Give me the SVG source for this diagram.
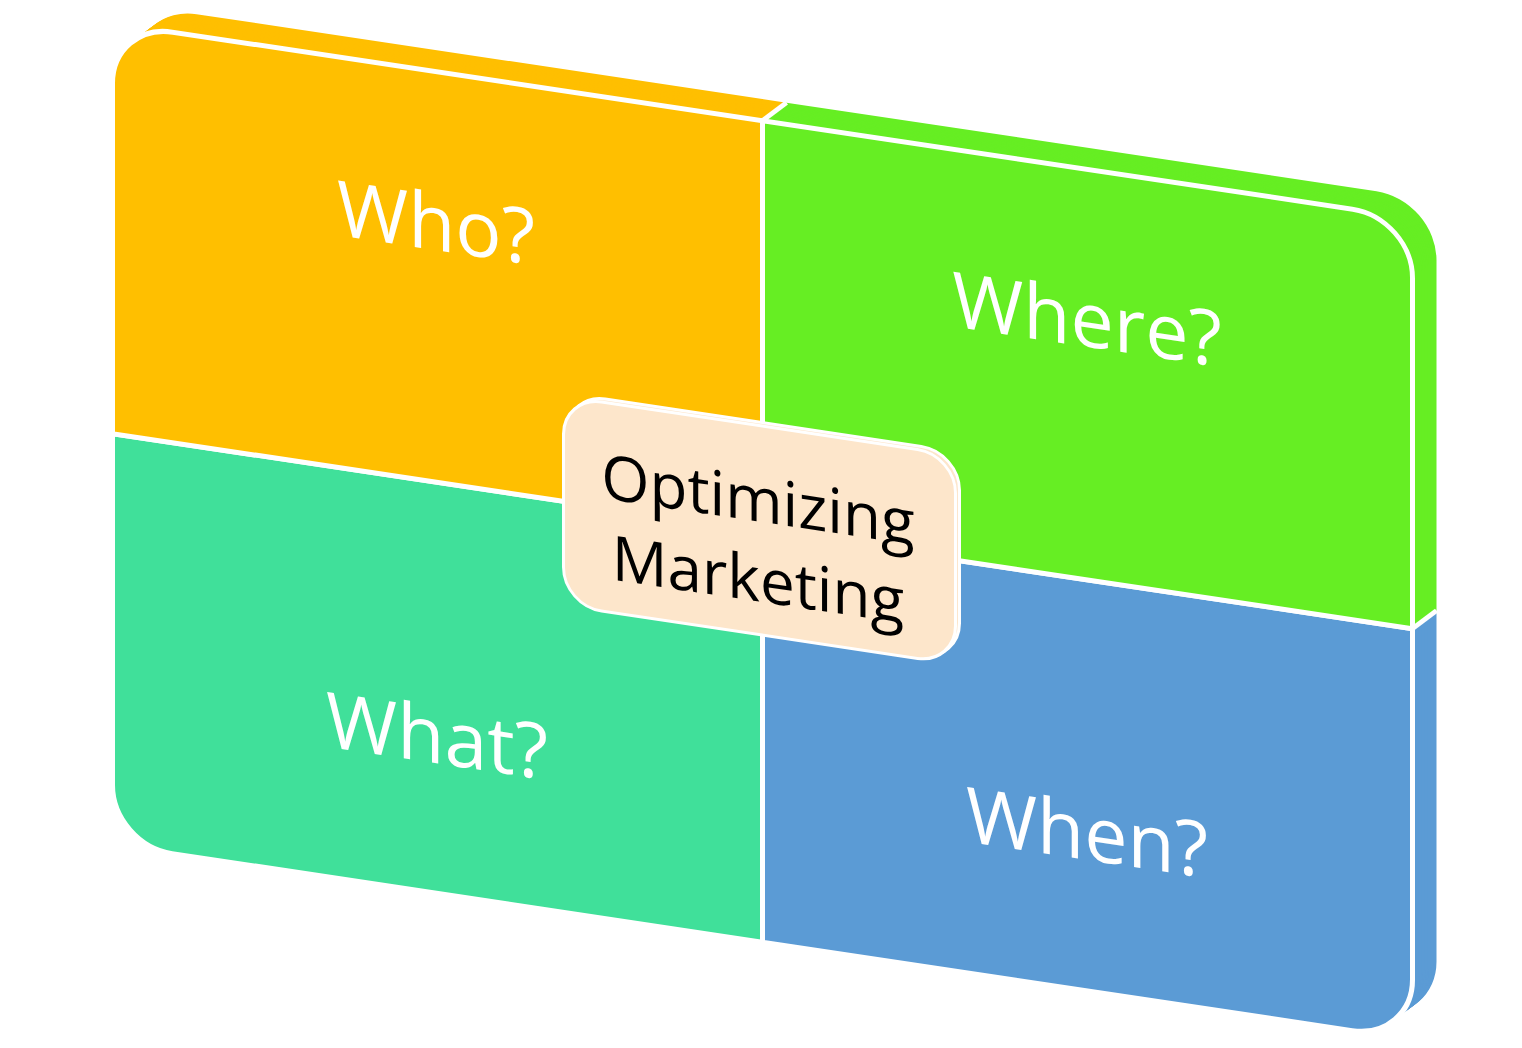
<svg xmlns="http://www.w3.org/2000/svg" xmlns:xlink="http://www.w3.org/1999/xlink" width="1522" height="1048" viewBox="0 0 1522 1048">
<style>
  .face { stroke: #ffffff; stroke-width: 5; stroke-linejoin: round; }
  .lbl { font-family: "Open Sans", "Noto Sans", sans-serif; font-size: 77px; fill: #ffffff; text-anchor: middle; }
  .ctr { font-family: "Open Sans", "Noto Sans", sans-serif; font-size: 62px; fill: #000000; text-anchor: middle; }
  .boxf { fill: #FDE6CB; stroke: #ffffff; stroke-width: 3; stroke-linejoin: round; }
  .edge { stroke: #ffffff; stroke-width: 4.5; fill: none; }
</style>
<defs>
  <path id="p-who" d="M762.5,23.5 H172.5 A60,60 0 0 0 112.5,83.5 V434 H762.5 Z"/>
  <path id="p-where" d="M762.5,23.5 H1352.5 A60,60 0 0 1 1412.5,83.5 V434 H762.5 Z"/>
  <path id="p-what" d="M112.5,434 V785 A60,60 0 0 0 172.5,845 H762.5 V434 Z"/>
  <path id="p-when" d="M762.5,434 V845 H1352.5 A60,60 0 0 0 1412.5,785 V434 Z"/>
  <g id="ext-what">
    <use href="#p-what" transform="translate(24 -21.6)"/><use href="#p-what" transform="translate(22.5 -20.25)"/>
    <use href="#p-what" transform="translate(21 -18.9)"/><use href="#p-what" transform="translate(19.5 -17.55)"/>
    <use href="#p-what" transform="translate(18 -16.2)"/><use href="#p-what" transform="translate(16.5 -14.85)"/>
    <use href="#p-what" transform="translate(15 -13.5)"/><use href="#p-what" transform="translate(13.5 -12.15)"/>
    <use href="#p-what" transform="translate(12 -10.8)"/><use href="#p-what" transform="translate(10.5 -9.45)"/>
    <use href="#p-what" transform="translate(9 -8.1)"/><use href="#p-what" transform="translate(7.5 -6.75)"/>
    <use href="#p-what" transform="translate(6 -5.4)"/><use href="#p-what" transform="translate(4.5 -4.05)"/>
    <use href="#p-what" transform="translate(3 -2.7)"/><use href="#p-what" transform="translate(1.5 -1.35)"/>
  </g>
  <g id="ext-when">
    <use href="#p-when" transform="translate(24 -21.6)"/><use href="#p-when" transform="translate(22.5 -20.25)"/>
    <use href="#p-when" transform="translate(21 -18.9)"/><use href="#p-when" transform="translate(19.5 -17.55)"/>
    <use href="#p-when" transform="translate(18 -16.2)"/><use href="#p-when" transform="translate(16.5 -14.85)"/>
    <use href="#p-when" transform="translate(15 -13.5)"/><use href="#p-when" transform="translate(13.5 -12.15)"/>
    <use href="#p-when" transform="translate(12 -10.8)"/><use href="#p-when" transform="translate(10.5 -9.45)"/>
    <use href="#p-when" transform="translate(9 -8.1)"/><use href="#p-when" transform="translate(7.5 -6.75)"/>
    <use href="#p-when" transform="translate(6 -5.4)"/><use href="#p-when" transform="translate(4.5 -4.05)"/>
    <use href="#p-when" transform="translate(3 -2.7)"/><use href="#p-when" transform="translate(1.5 -1.35)"/>
  </g>
  <g id="ext-who">
    <use href="#p-who" transform="translate(24 -21.6)"/><use href="#p-who" transform="translate(22.5 -20.25)"/>
    <use href="#p-who" transform="translate(21 -18.9)"/><use href="#p-who" transform="translate(19.5 -17.55)"/>
    <use href="#p-who" transform="translate(18 -16.2)"/><use href="#p-who" transform="translate(16.5 -14.85)"/>
    <use href="#p-who" transform="translate(15 -13.5)"/><use href="#p-who" transform="translate(13.5 -12.15)"/>
    <use href="#p-who" transform="translate(12 -10.8)"/><use href="#p-who" transform="translate(10.5 -9.45)"/>
    <use href="#p-who" transform="translate(9 -8.1)"/><use href="#p-who" transform="translate(7.5 -6.75)"/>
    <use href="#p-who" transform="translate(6 -5.4)"/><use href="#p-who" transform="translate(4.5 -4.05)"/>
    <use href="#p-who" transform="translate(3 -2.7)"/><use href="#p-who" transform="translate(1.5 -1.35)"/>
  </g>
  <g id="ext-where">
    <use href="#p-where" transform="translate(24 -21.6)"/><use href="#p-where" transform="translate(22.5 -20.25)"/>
    <use href="#p-where" transform="translate(21 -18.9)"/><use href="#p-where" transform="translate(19.5 -17.55)"/>
    <use href="#p-where" transform="translate(18 -16.2)"/><use href="#p-where" transform="translate(16.5 -14.85)"/>
    <use href="#p-where" transform="translate(15 -13.5)"/><use href="#p-where" transform="translate(13.5 -12.15)"/>
    <use href="#p-where" transform="translate(12 -10.8)"/><use href="#p-where" transform="translate(10.5 -9.45)"/>
    <use href="#p-where" transform="translate(9 -8.1)"/><use href="#p-where" transform="translate(7.5 -6.75)"/>
    <use href="#p-where" transform="translate(6 -5.4)"/><use href="#p-where" transform="translate(4.5 -4.05)"/>
    <use href="#p-where" transform="translate(3 -2.7)"/><use href="#p-where" transform="translate(1.5 -1.35)"/>
  </g>
</defs>
<rect width="1522" height="1048" fill="#ffffff"/>
<g transform="matrix(1 0.15 0 1 0 -17.25)">
  <g id="node-what" fill="#40E09A">
    <use href="#ext-what"/>
    <use href="#p-what" class="face"/>
    <text class="lbl" x="437" y="715">What?</text>
  </g>
  <g id="node-when" fill="#5B9BD5">
    <use href="#ext-when"/>
    <use href="#p-when" class="face"/>
    <text class="lbl" x="1087" y="714">When?</text>
  </g>
  <g id="node-who" fill="#FFBF00">
    <use href="#ext-who"/>
    <use href="#p-who" class="face"/>
    <text class="lbl" x="436" y="202">Who?</text>
  </g>
  <g id="node-where" fill="#66EE23">
    <use href="#ext-where"/>
    <use href="#p-where" class="face"/>
    <text class="lbl" x="1087" y="201">Where?</text>
  </g>
  <g id="connectors">
    <path class="edge" d="M762.5,23.5 L786.5,1.9"/>
    <path class="edge" d="M1412.5,434 L1436.5,412.4"/>
  </g>
  <g id="node-center">
    <rect class="boxf" x="563.5" y="329" width="392" height="209" rx="38" ry="38" transform="translate(4 -3.6)"/>
    <rect class="boxf" x="563.5" y="329" width="392" height="209" rx="38" ry="38"/>
    <text class="ctr" x="758" y="425">Optimizing</text>
    <text class="ctr" x="758" y="505">Marketing</text>
  </g>
</g>
</svg>
